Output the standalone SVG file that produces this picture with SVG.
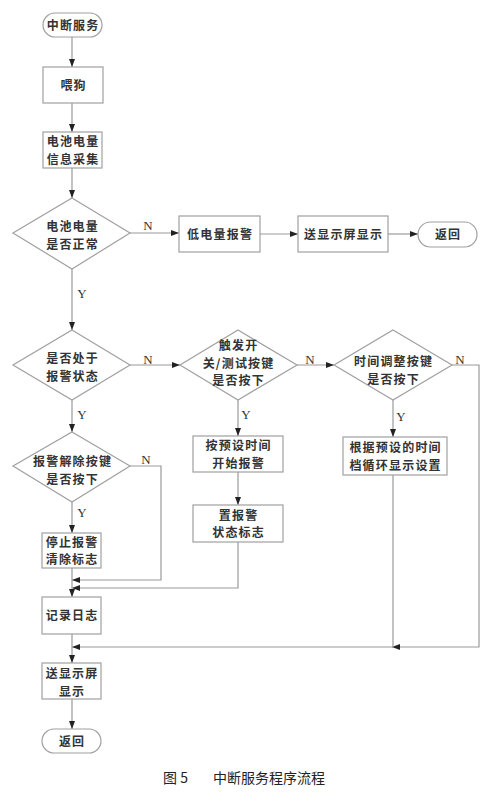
<svg xmlns="http://www.w3.org/2000/svg" width="495" height="804" viewBox="0 0 495 804">
<style>
.s{fill:#fff;stroke:#a0a0a0;stroke-width:1.2}
.t{font-family:"Noto Sans CJK SC","Noto Sans CJK JP",sans-serif;font-size:12px;letter-spacing:1.2px;fill:#333;text-anchor:middle;font-weight:bold}
.l{font-family:"Liberation Serif",serif;font-size:13px;fill:#333;text-anchor:middle}
.c{fill:none;stroke:#9a9a9a;stroke-width:1.2}
.cap{font-family:"Noto Sans CJK SC",sans-serif;font-size:14px;fill:#222}
</style>
<defs>
<marker id="a" markerWidth="8" markerHeight="6" refX="8" refY="3" orient="auto" markerUnits="userSpaceOnUse">
<path d="M0,0 L8,3 L0,6 z" fill="#222"/>
</marker>
</defs>
<rect width="495" height="804" fill="#fff"/>
<g id="connectors">
<path class="c" d="M72,37 V67" marker-end="url(#a)"/>
<path class="c" d="M72,103 V132" marker-end="url(#a)"/>
<path class="c" d="M72,168 V198" marker-end="url(#a)"/>
<path class="c" d="M130,233 H179" marker-end="url(#a)"/>
<path class="c" d="M260,234 H298" marker-end="url(#a)"/>
<path class="c" d="M388,234 H418" marker-end="url(#a)"/>
<path class="c" d="M72,269 V330" marker-end="url(#a)"/>
<path class="c" d="M130,365 H180" marker-end="url(#a)"/>
<path class="c" d="M297,365 H334" marker-end="url(#a)"/>
<path class="c" d="M72,400 V432" marker-end="url(#a)"/>
<path class="c" d="M238,400 V436" marker-end="url(#a)"/>
<path class="c" d="M393,400 V437" marker-end="url(#a)"/>
<path class="c" d="M72,502 V533" marker-end="url(#a)"/>
<path class="c" d="M238,472 V505" marker-end="url(#a)"/>
<path class="c" d="M130,466 H161 V580 H72" marker-end="url(#a)"/>
<path class="c" d="M238,542 V588 H72" marker-end="url(#a)"/>
<path class="c" d="M72,568 V597" marker-end="url(#a)"/>
<path class="c" d="M452,365 H479 V647 H392" marker-end="url(#a)"/>
<path class="c" d="M393,475 V647 H72" marker-end="url(#a)"/>
<path class="c" d="M72,634 V663" marker-end="url(#a)"/>
<path class="c" d="M72,699 V729" marker-end="url(#a)"/>
</g>
<g id="labels">
<text class="l" x="148" y="230">N</text>
<text class="l" x="82" y="298">Y</text>
<text class="l" x="148" y="364">N</text>
<text class="l" x="310" y="364">N</text>
<text class="l" x="460" y="364">N</text>
<text class="l" x="82" y="419">Y</text>
<text class="l" x="246" y="419">Y</text>
<text class="l" x="401" y="421">Y</text>
<text class="l" x="146" y="464">N</text>
<text class="l" x="82" y="517">Y</text>
</g>
<g id="start"><rect class="s" x="43" y="13" width="59" height="24" rx="12"/><text class="t" x="73.1" y="29.6">中断服务</text></g>
<g id="feed"><rect class="s" x="43" y="67" width="60" height="36"/><text class="t" x="73.6" y="89.6">喂狗</text></g>
<g id="collect"><rect class="s" x="43" y="132" width="59" height="36"/><text class="t" x="73.1" y="146">电池电量<tspan x="73.1" dy="17.5">信息采集</tspan></text></g>
<g id="d1"><polygon class="s" points="72,198 130,233 72,269 13,233"/><text class="t" x="72.6" y="231">电池电量<tspan x="72.6" dy="17.5">是否正常</tspan></text></g>
<g id="low"><rect class="s" x="179" y="216" width="81" height="36"/><text class="t" x="220.1" y="238.6">低电量报警</text></g>
<g id="disp1"><rect class="s" x="298" y="216" width="90" height="36"/><text class="t" x="343.6" y="238.6">送显示屏显示</text></g>
<g id="ret1"><rect class="s" x="418" y="222" width="59" height="25" rx="12.5"/><text class="t" x="448.1" y="239">返回</text></g>
<g id="d2"><polygon class="s" points="72,330 130,365 72,400 13,365"/><text class="t" x="72.6" y="363">是否处于<tspan x="72.6" dy="17.5">报警状态</tspan></text></g>
<g id="d3"><polygon class="s" points="238,330 297,365 238,400 180,365"/><text class="t" x="238.6" y="350">触发开<tspan x="238.6" dy="17.5">关/测试按键</tspan><tspan x="238.6" dy="17.5">是否按下</tspan></text></g>
<g id="d4"><polygon class="s" points="393,330 452,365 393,400 334,365"/><text class="t" x="393.6" y="366">时间调整按键<tspan x="393.6" dy="17.5">是否按下</tspan></text></g>
<g id="d5"><polygon class="s" points="72,432 130,466 72,502 13,466"/><text class="t" x="72.6" y="466">报警解除按键<tspan x="72.6" dy="17.5">是否按下</tspan></text></g>
<g id="startAlarm"><rect class="s" x="193" y="436" width="90" height="36"/><text class="t" x="238.6" y="450">按预设时间<tspan x="238.6" dy="17.5">开始报警</tspan></text></g>
<g id="cycle"><rect class="s" x="343" y="437" width="104" height="38"/><text class="t" x="395.6" y="452">根据预设的时间<tspan x="395.6" dy="17.5">档循环显示设置</tspan></text></g>
<g id="setFlag"><rect class="s" x="193" y="505" width="90" height="37"/><text class="t" x="238.6" y="519.5">置报警<tspan x="238.6" dy="17.5">状态标志</tspan></text></g>
<g id="stop"><rect class="s" x="42" y="533" width="59" height="35"/><text class="t" x="72.1" y="546.5">停止报警<tspan x="72.1" dy="17.5">清除标志</tspan></text></g>
<g id="log"><rect class="s" x="42" y="597" width="59" height="37"/><text class="t" x="72.1" y="620">记录日志</text></g>
<g id="disp2"><rect class="s" x="42" y="663" width="59" height="36"/><text class="t" x="72.1" y="678">送显示屏<tspan x="72.1" dy="17.5">显示</tspan></text></g>
<g id="ret2"><rect class="s" x="42" y="729" width="59" height="24" rx="12"/><text class="t" x="72.1" y="745.6">返回</text></g>
<text class="cap" x="163" y="783">图 5</text>
<text class="cap" x="213" y="783">中断服务程序流程</text>
</svg>
